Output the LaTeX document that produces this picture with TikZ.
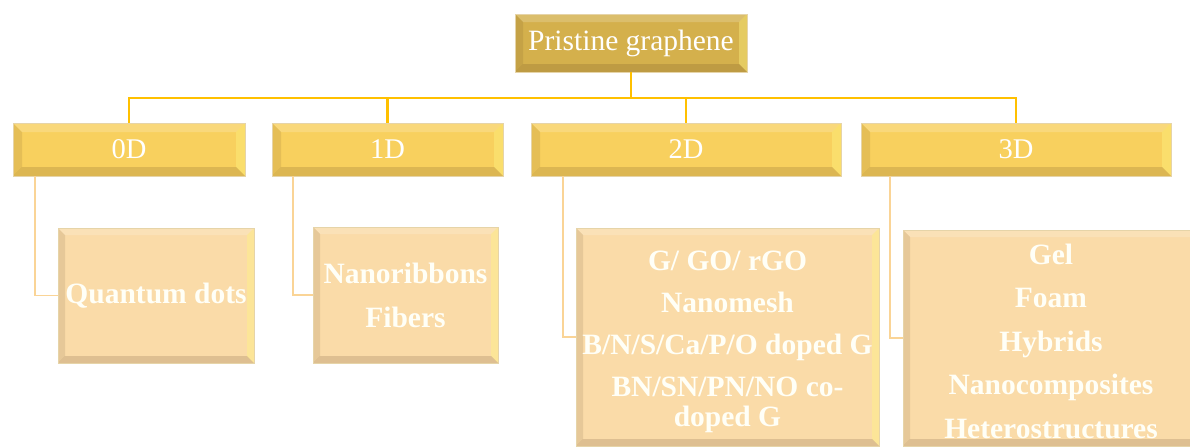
\documentclass[tikz,border=0pt]{standalone}
\usepackage{fontspec}
\setmainfont{Liberation Serif}
\usetikzlibrary{calc}
\definecolor{topfill}{RGB}{212,176,76}
\definecolor{levelfill}{RGB}{248,208,94}
\definecolor{leaffill}{RGB}{250,219,168}
\definecolor{trunkc}{RGB}{255,192,0}
\definecolor{twigc}{RGB}{250,212,150}
\definecolor{edgec}{RGB}{230,212,168}
\definecolor{hilite}{RGB}{255,244,130}
\tikzset{
  bev/.style={path picture={
    \coordinate (pa) at (path picture bounding box.north west);
    \coordinate (pb) at (path picture bounding box.north east);
    \coordinate (pc) at (path picture bounding box.south east);
    \coordinate (pd) at (path picture bounding box.south west);
    \fill[white,opacity=.18] (pa) -- (pb) -- ($(pb)+(-#1pt,-#1pt)$) -- ($(pa)+(#1pt,-#1pt)$) -- cycle;
    \fill[hilite,opacity=.4] (pb) -- (pc) -- ($(pc)+(-#1pt,#1pt)$) -- ($(pb)+(-#1pt,-#1pt)$) -- cycle;
    \fill[black!60!brown,opacity=.16] (pc) -- (pd) -- ($(pd)+(#1pt,#1pt)$) -- ($(pc)+(-#1pt,#1pt)$) -- cycle;
    \fill[black!60!brown,opacity=.11] (pd) -- (pa) -- ($(pa)+(#1pt,-#1pt)$) -- ($(pd)+(#1pt,#1pt)$) -- cycle;
  }},
  box/.style={rectangle, draw=edgec, line width=0.8pt, inner sep=0pt, text=white, align=center},
  topbox/.style={box, fill=topfill, bev=8, minimum width=232pt, minimum height=58pt,
    font=\fontsize{29.5}{32}\selectfont},
  levelbox/.style={box, fill=levelfill, bev=9, minimum height=53pt,
    font=\fontsize{28.5}{30}\selectfont},
  leafbox/.style={box, fill=leaffill, bev=7, text=white!97!yellow,
    font=\bfseries\fontsize{29.5}{31}\selectfont},
  leaftext/.style={inner sep=0pt, text=white!97!yellow, align=center,
    font=\bfseries\fontsize{29.5}{31}\selectfont},
  trunk/.style={draw=trunkc, line width=2.4pt},
  twig/.style={draw=twigc, line width=1.3pt},
}
\begin{document}
\begin{tikzpicture}[x=1pt,y=-1pt]
\useasboundingbox (0,0) rectangle (1190,447);
\clip (0,0) rectangle (1190,447);
\coordinate (busy) at (0,98);
\coordinate (s0) at (35,176);
\coordinate (s1) at (293,176);
\coordinate (s2) at (563,176);
\coordinate (s3) at (890,176);

\node[topbox] (top) at (631,43) {Pristine graphene};
\node[levelbox, minimum width=232pt] (l0) at (129,149.5) {0D};
\node[levelbox, minimum width=231pt] (l1) at (387.5,149.5) {1D};
\node[levelbox, minimum width=310pt] (l2) at (686,149.5) {2D};
\node[levelbox, minimum width=310pt] (l3) at (1016,149.5) {3D};

\node[leafbox, minimum width=196pt, minimum height=135pt] (q) at (156,295.5) {Quantum dots};
\node[leafbox, minimum width=185pt, minimum height=136pt] (n) at (405.5,295) {Nanoribbons\\[13pt]Fibers};
\node[leafbox, minimum width=303pt, minimum height=218pt] (g) at (727.5,337) {};
\node[leaftext] (gt) at (727.5,342) {G/ GO/ rGO\\[11pt]Nanomesh\\[11pt]B/N/S/Ca/P/O doped G\\[11pt]BN/SN/PN/NO co-\\[-1pt]doped G};
\node[leafbox, minimum width=340pt, minimum height=216pt] (h) at (1073,338) {};
\node[leaftext] (ht) at (1051,341) {Gel\\[12.5pt]Foam\\[12.5pt]Hybrids\\[12.5pt]Nanocomposites\\[12.5pt]Heterostructures};

\draw[trunk] (top.south) -- (top.south |- busy);
\draw[trunk] (l0.north) -- (l0.north |- busy) -- (l3.north |- busy) -- (l3.north);
\draw[trunk] (l1.north) -- (l1.north |- busy);
\draw[trunk] (l2.north) -- (l2.north |- busy);

\draw[twig] (s0) |- (q.west);
\draw[twig] (s1) |- (n.west);
\draw[twig] (s2) |- (g.west);
\draw[twig] (s3) |- (h.west);
\end{tikzpicture}
\end{document}
